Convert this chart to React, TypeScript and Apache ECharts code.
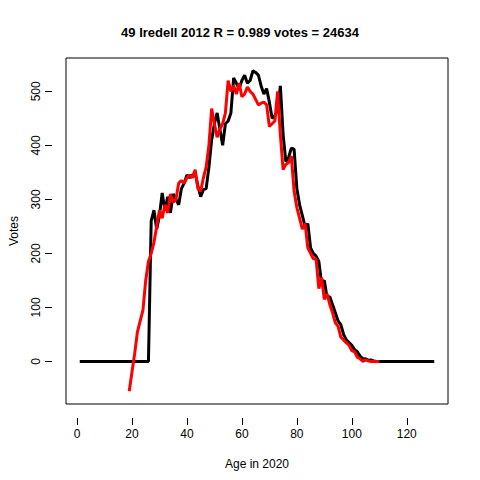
import { useEffect, useRef } from 'react'
import * as echarts from 'echarts'

const blackAges = Array.from({ length: 130 }, (_, i) => i + 1)
const blackVals = [
  0, 0, 0, 0, 0, 0, 0, 0, 0, 0, 0, 0, 0, 0, 0, 0, 0, 0, 0, 0, 0, 0, 0, 0, 0, 0,
  260, 280, 245, 270, 312, 280, 305, 275, 310, 300, 290, 320, 330, 345, 340, 345, 348, 325, 305, 318, 320, 360, 410, 440,
  460, 430, 400, 440, 445, 460, 525, 515, 505, 520, 530, 515, 520, 538, 535, 530, 510, 495, 505, 480,
  450, 455, 465, 510, 420, 370, 378, 395, 393, 320, 290, 270, 250, 255, 210, 200, 195, 185, 145, 150,
  118, 120, 105, 90, 75, 68, 50, 40, 35, 30, 22, 18, 10, 5, 5, 2, 3, 1,
  0, 0, 0, 0, 0, 0, 0, 0, 0, 0, 0, 0, 0, 0, 0, 0, 0, 0, 0, 0, 0, 0,
]
const redStart = 19
const redVals = [
  -55, -20, 15, 55, 75, 95, 150, 185, 200, 220, 250, 280, 265, 290, 275, 310, 295, 300, 330, 335,
  330, 340, 345, 340, 355, 320, 315, 340, 360, 400, 468, 440, 415, 430, 440, 460, 520, 500, 510, 495,
  515, 490, 495, 508, 500, 495, 485, 475, 478, 480, 475, 435, 440, 445, 500, 420, 355, 365, 368, 380,
  315, 285, 265, 245, 255, 210, 200, 190, 190, 135, 155, 115, 125, 105, 90, 72, 65, 45, 40, 35,
  30, 20, 18, 8, 5, 0, 3, 1, 0, 0, 0, 0,
]
const xTicks = [0, 20, 40, 60, 80, 100, 120]
const yTicks = [0, 100, 200, 300, 400, 500]

export default function App() {
  const ref = useRef<HTMLDivElement>(null)
  useEffect(() => {
    if (!ref.current) return
    const chart = echarts.init(ref.current, null, { renderer: 'svg' })
    const font = 'Liberation Sans'
    chart.setOption({
      animation: false,
      title: {
        text: '49 Iredell 2012 R = 0.989 votes = 24634',
        left: 'center',
        top: 21,
        textStyle: { fontFamily: font, fontSize: 13, fontWeight: 'bold', color: '#000' },
      },
      grid: { left: 59, right: 32, top: 58, bottom: 76, show: true, borderColor: '#000', borderWidth: 1 },
      xAxis: {
        type: 'value',
        min: -4,
        max: 135,
        offset: 14,
        axisLine: { show: false, onZero: false },
        axisTick: { show: true, length: 7, lineStyle: { color: '#000' }, customValues: xTicks },
        axisLabel: { fontFamily: font, fontSize: 12, color: '#000', margin: 10, customValues: xTicks },
        splitLine: { show: false },
        name: 'Age in 2020',
        nameLocation: 'middle',
        nameGap: 40,
        nameTextStyle: { fontFamily: font, fontSize: 12, color: '#000' },
      },
      yAxis: {
        type: 'value',
        min: -78.7,
        max: 561.7,
        offset: 14,
        axisLine: { show: false, onZero: false },
        axisTick: { show: true, length: 7, lineStyle: { color: '#000' }, customValues: yTicks },
        axisLabel: { fontFamily: font, fontSize: 12, color: '#000', rotate: 90, margin: 10, customValues: yTicks },
        splitLine: { show: false },
        name: 'Votes',
        nameLocation: 'middle',
        nameGap: 32,
        nameTextStyle: { fontFamily: font, fontSize: 12, color: '#000' },
      },
      series: [
        {
          type: 'line',
          data: blackVals.map((v, i) => [blackAges[i], v]),
          symbol: 'none',
          lineStyle: { color: '#000', width: 3 },
        },
        {
          type: 'line',
          data: redVals.map((v, i) => [redStart + i, v]),
          symbol: 'none',
          lineStyle: { color: '#ff0000', width: 3 },
        },
      ],
    })
    return () => chart.dispose()
  }, [])
  return <div ref={ref} style={{ width: 480, height: 480, margin: -8 }} />
}
